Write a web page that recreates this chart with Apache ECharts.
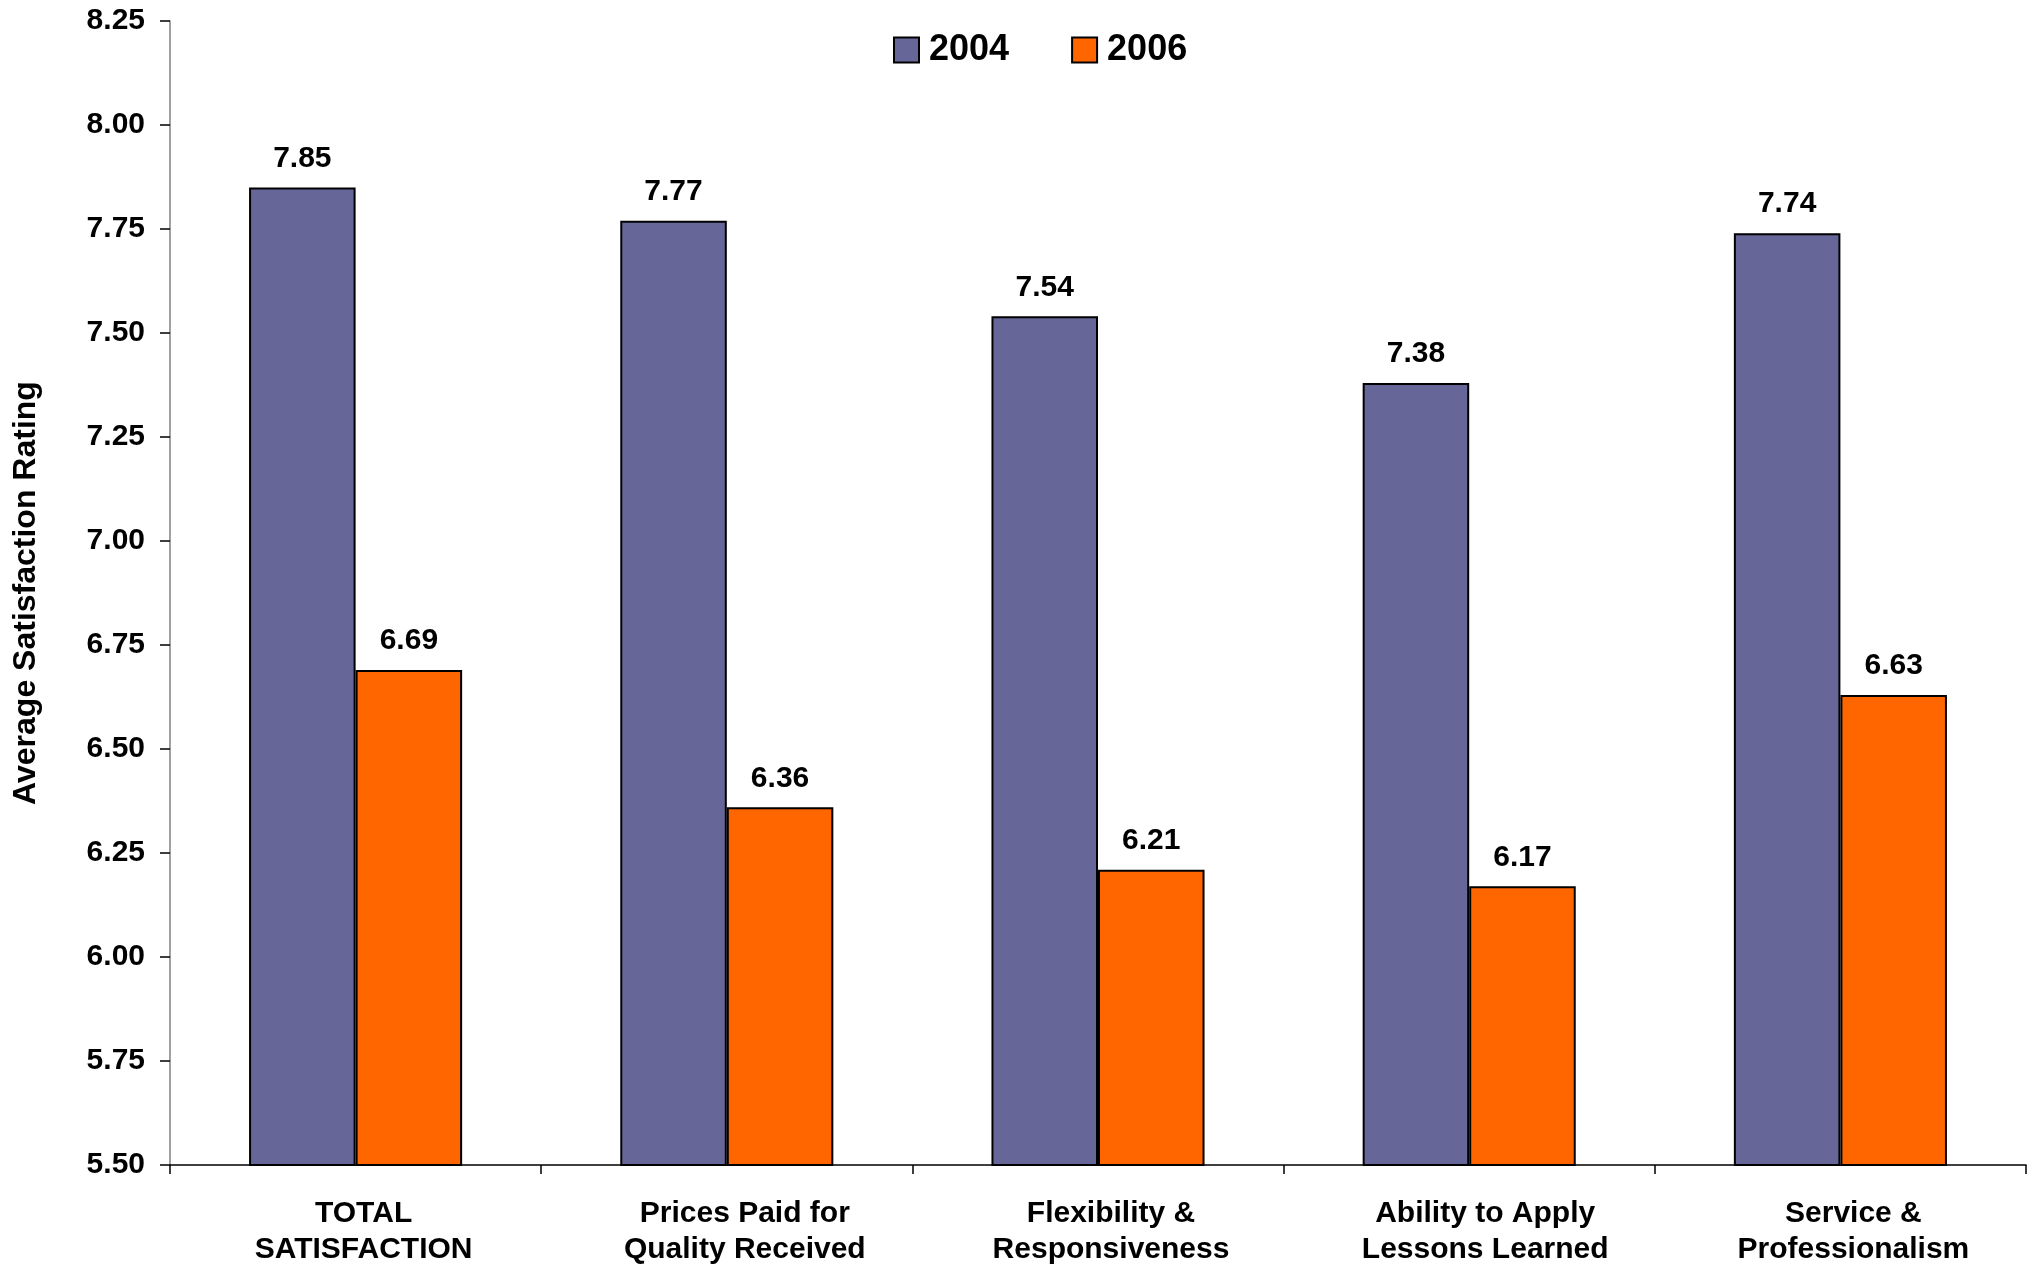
<!DOCTYPE html>
<html>
<head>
<meta charset="utf-8">
<script src="https://cdn.jsdelivr.net/npm/echarts@6/dist/echarts.min.js"></script>
<style>
  html, body { margin: 0; padding: 0; background: #ffffff; }
  #chart { width: 2037px; height: 1267px; }
</style>
</head>
<body>
<div id="chart"></div>
<script>
const categories = [
  "TOTAL\nSATISFACTION",
  "Prices Paid for\nQuality Received",
  "Flexibility &\nResponsiveness",
  "Ability to Apply\nLessons Learned",
  "Service &\nProfessionalism"
];
const seriesNames = ["2004", "2006"];
const values2004 = [7.85, 7.77, 7.54, 7.38, 7.74];
const values2006 = [6.69, 6.36, 6.21, 6.17, 6.63];
const yMin = 5.5;
const yMax = 8.25;
const yInterval = 0.25;
const yTitle = "Average Satisfaction Rating";

const FONT = "'Liberation Sans', Arial, sans-serif";
// horizontal nudge (px) of each category label, as in the original layout
const labelShift = [8, 18, 13, 16, 13];

const chart = echarts.init(document.getElementById('chart'), null, { renderer: 'canvas' });

const labelStyle = {
  show: true,
  position: 'top',
  distance: 14,
  color: '#000',
  fontFamily: FONT,
  fontWeight: 'bold',
  fontSize: 30,
  formatter: p => p.value.toFixed(2)
};

const categoryData = categories.map((c, i) => ({
  value: c,
  textStyle: { padding: [0, 0, 0, 2 * labelShift[i]] }
}));

chart.setOption({
  animation: false,
  backgroundColor: '#ffffff',
  legend: {
    left: 888,
    top: 27,
    itemWidth: 25,
    itemHeight: 25,
    itemGap: 62,
    icon: 'rect',
    textStyle: {
      fontFamily: FONT,
      fontWeight: 'bold',
      fontSize: 36,
      color: '#000',
      padding: [0, 0, 0, 5]
    },
    data: seriesNames
  },
  grid: {
    left: 170,
    right: 11,
    top: 21,
    bottom: 102,
    containLabel: false,
    outerBoundsMode: 'none'
  },
  xAxis: {
    type: 'category',
    data: categoryData,
    axisLine: { show: true, lineStyle: { color: '#000', width: 1.5 } },
    axisTick: { show: true, length: 9, lineStyle: { color: '#000', width: 1.5 } },
    axisLabel: {
      margin: 31,
      interval: 0,
      color: '#000',
      fontFamily: FONT,
      fontWeight: 'bold',
      fontSize: 30,
      lineHeight: 36
    },
    splitLine: { show: false }
  },
  yAxis: {
    type: 'value',
    min: yMin,
    max: yMax,
    interval: yInterval,
    name: yTitle,
    nameLocation: 'middle',
    nameGap: 128,
    nameRotate: 90,
    nameTextStyle: {
      color: '#000',
      fontFamily: FONT,
      fontWeight: 'bold',
      fontSize: 32
    },
    axisLine: { show: true, lineStyle: { color: '#808080', width: 1.5 } },
    axisTick: { show: true, length: 10, lineStyle: { color: '#000', width: 1.5 } },
    axisLabel: {
      margin: 25,
      color: '#000',
      fontFamily: FONT,
      fontWeight: 'bold',
      fontSize: 30,
      formatter: v => v.toFixed(2)
    },
    splitLine: { show: false }
  },
  series: [
    {
      name: seriesNames[0],
      type: 'bar',
      data: values2004,
      barGap: '0%',
      barCategoryGap: '42.6%',
      itemStyle: { color: '#666699', borderColor: '#000', borderWidth: 2 },
      label: labelStyle
    },
    {
      name: seriesNames[1],
      type: 'bar',
      data: values2006,
      barGap: '0%',
      barCategoryGap: '42.6%',
      itemStyle: { color: '#FF6600', borderColor: '#000', borderWidth: 2 },
      label: labelStyle
    }
  ]
});
</script>
</body>
</html>
